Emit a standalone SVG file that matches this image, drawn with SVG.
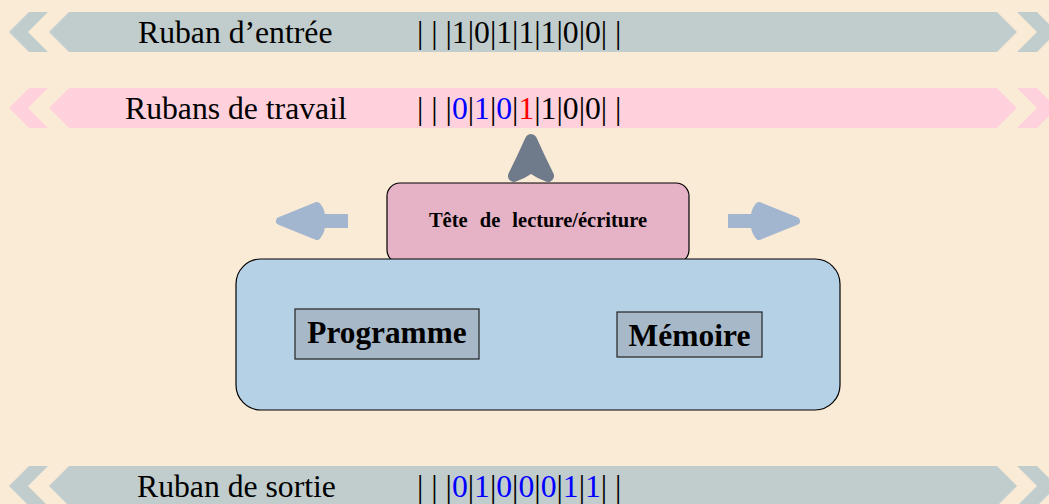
<svg xmlns="http://www.w3.org/2000/svg" width="1049" height="504" viewBox="0 0 1049 504">
<style>
.tape-g{fill:#c1cdcd}
.tape-p{fill:#ffd1dc}
.lbl{font-family:"Liberation Serif","Times New Roman",serif;font-size:31.7px;fill:#000}
.b{fill:#0000ff}
.r{fill:#ff0000}
.bold{font-family:"Liberation Serif","Times New Roman",serif;font-weight:bold;fill:#000}
.side{fill:#a3b6cf;stroke:#a3b6cf;stroke-width:8;stroke-linejoin:round}
.shaft{fill:#a3b6cf}
.up{fill:#6f7b8b;stroke:#6f7b8b;stroke-width:12;stroke-linejoin:round}
</style>
<defs>
<g id="tapeShape">
<polygon points="9,0 29,-20 48,-20 28,0 48,20 29,20"/>
<polygon points="49,0 69,-20 997,-20 1017,0 997,20 69,20"/>
<polygon points="1017,-20 1037,-20 1057,0 1037,20 1017,20 1037,0"/>
</g>
</defs>
<rect width="1049" height="504" fill="#faebd7"/>
<g id="ruban-entree">
<use href="#tapeShape" class="tape-g" transform="translate(0,32)"/>
<text class="lbl" x="138" y="43">Ruban d’entrée</text>
<text class="lbl" x="417" y="43" xml:space="preserve">| | |1|0|1|1|1|0|0| |</text>
</g>
<g id="rubans-travail">
<use href="#tapeShape" class="tape-p" transform="translate(0,108)"/>
<text class="lbl" x="125" y="119">Rubans de travail</text>
<text class="lbl" x="417" y="119" xml:space="preserve">| | |<tspan class="b">0</tspan>|<tspan class="b">1</tspan>|<tspan class="b">0</tspan>|<tspan class="r">1</tspan>|1|0|0| |</text>
</g>
<g id="ruban-sortie">
<use href="#tapeShape" class="tape-g" transform="translate(0,486)"/>
<text class="lbl" x="137" y="497">Ruban de sortie</text>
<text class="lbl" x="417" y="497" xml:space="preserve">| | |<tspan class="b">0</tspan>|<tspan class="b">1</tspan>|<tspan class="b">0</tspan>|<tspan class="b">0</tspan>|<tspan class="b">0</tspan>|<tspan class="b">1</tspan>|<tspan class="b">1</tspan>| |</text>
</g>
<g id="connectors">
<path class="up" d="M531 140 Q523 158 514 176 Q522 173 531 167 Q540 173 548 176 Q539 158 531 140 Z"/>
<path class="side" d="M280 221 L317 206 Q321 211 321 216 L321 226 Q321 231 317 236 Z"/>
<rect class="shaft" x="320" y="214" width="28" height="14"/>
<path class="side" d="M796 221 L759 206 Q755 211 755 216 L755 226 Q755 231 759 236 Z"/>
<rect class="shaft" x="728" y="214" width="28" height="14"/>
</g>
<g id="tete">
<rect x="387" y="183" width="302" height="80" rx="13" fill="#e6b2c5" stroke="#000" stroke-width="1.2"/>
<text class="bold" x="538" y="227" font-size="20.5" text-anchor="middle" word-spacing="7">Tête de lecture/écriture</text>
</g>
<g id="unite">
<rect x="236" y="259" width="604" height="151" rx="25" fill="#b5d1e6" stroke="#000" stroke-width="1.2"/>
</g>
<g id="programme">
<rect x="295" y="309" width="184" height="50" fill="#a7b9c9" stroke="#222" stroke-width="1.2"/>
<text class="bold" x="387" y="343" font-size="31.3" text-anchor="middle">Programme</text>
</g>
<g id="memoire">
<rect x="617" y="312" width="145" height="45" fill="#a7b9c9" stroke="#222" stroke-width="1.2"/>
<text class="bold" x="689.5" y="346" font-size="31.5" text-anchor="middle">Mémoire</text>
</g>
</svg>
